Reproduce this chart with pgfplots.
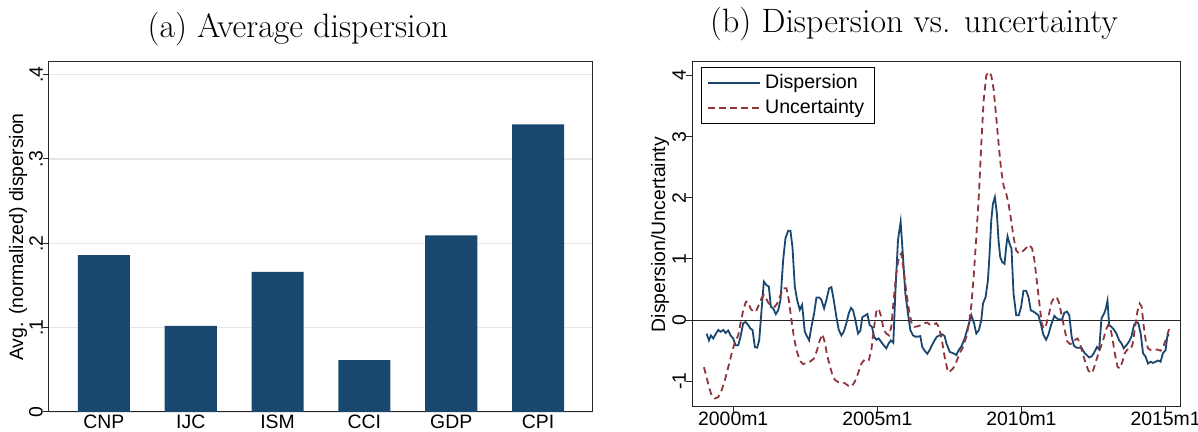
\documentclass[border=0pt]{standalone}
\usepackage{fontspec}
\usepackage{pgfplots}
\usepackage{pgfplotstable}
\pgfplotsset{compat=1.18}
\newfontfamily\arial{Liberation Sans}
\definecolor{stnavy}{HTML}{1A476F}
\definecolor{stmaroon}{HTML}{90353B}
\definecolor{stgrid}{HTML}{E6E6E6}

% Average normalized dispersion by survey
\pgfplotstableread{
x  v     name
1  0.186 CNP
2  0.102 IJC
3  0.166 ISM
4  0.0615 CCI
5  0.2095 GDP
6  0.341 CPI
}\avgdisp

% Dispersion (monthly, decimal years)
\pgfplotstableread{
t v
1999.076 -0.22
1999.157 -0.33
1999.226 -0.25
1999.307 -0.30
1999.388 -0.23
1999.480 -0.16
1999.561 -0.19
1999.654 -0.16
1999.734 -0.21
1999.827 -0.17
1999.908 -0.25
2000.000 -0.30
2000.081 -0.41
2000.173 -0.41
2000.254 -0.27
2000.346 -0.05
2000.427 -0.03
2000.520 -0.08
2000.600 -0.14
2000.670 -0.16
2000.751 -0.44
2000.831 -0.45
2000.901 -0.33
2000.982 0.16
2001.062 0.63
2001.155 0.57
2001.236 0.55
2001.305 0.22
2001.386 0.19
2001.478 0.10
2001.559 0.16
2001.640 0.33
2001.732 0.98
2001.813 1.34
2001.905 1.46
2001.986 1.46
2002.055 1.20
2002.136 0.55
2002.217 0.33
2002.309 0.17
2002.390 0.25
2002.483 -0.19
2002.564 -0.27
2002.633 -0.33
2002.714 -0.11
2002.806 0.11
2002.887 0.37
2002.979 0.37
2003.060 0.33
2003.152 0.19
2003.233 0.33
2003.326 0.52
2003.406 0.54
2003.487 0.33
2003.580 0.05
2003.661 -0.16
2003.753 -0.25
2003.834 -0.19
2003.926 -0.05
2004.007 0.11
2004.088 0.20
2004.157 0.16
2004.238 0.00
2004.330 -0.22
2004.411 -0.17
2004.480 0.05
2004.561 0.07
2004.654 0.10
2004.734 -0.08
2004.815 -0.11
2004.885 -0.27
2004.965 -0.32
2005.046 -0.30
2005.139 -0.36
2005.219 -0.41
2005.312 -0.46
2005.393 -0.38
2005.473 -0.33
2005.554 -0.37
2005.624 0.44
2005.716 1.31
2005.808 1.61
2005.889 1.04
2005.970 0.44
2006.062 0.11
2006.143 -0.16
2006.236 -0.25
2006.316 -0.27
2006.409 -0.27
2006.490 -0.26
2006.559 -0.44
2006.640 -0.50
2006.732 -0.55
2006.813 -0.49
2006.894 -0.41
2006.986 -0.33
2007.067 -0.27
2007.159 -0.25
2007.240 -0.23
2007.333 -0.26
2007.396 -0.38
2007.512 -0.52
2007.627 -0.54
2007.742 -0.57
2007.823 -0.49
2007.915 -0.43
2008.030 -0.30
2008.145 -0.11
2008.260 0.08
2008.353 -0.05
2008.433 -0.22
2008.525 -0.16
2008.606 0.00
2008.664 0.27
2008.756 0.38
2008.836 0.65
2008.894 1.09
2008.952 1.63
2009.009 1.90
2009.078 2.01
2009.147 1.74
2009.205 1.30
2009.263 1.03
2009.332 0.95
2009.412 0.92
2009.470 1.20
2009.516 1.37
2009.585 1.25
2009.654 1.17
2009.724 0.44
2009.816 0.08
2009.908 0.08
2009.988 0.22
2010.069 0.48
2010.161 0.48
2010.242 0.38
2010.323 0.16
2010.415 0.14
2010.507 0.11
2010.588 0.08
2010.680 -0.08
2010.760 -0.24
2010.853 -0.32
2010.933 -0.24
2011.025 -0.08
2011.141 0.07
2011.221 0.03
2011.313 0.01
2011.406 0.01
2011.486 0.12
2011.578 0.14
2011.659 0.08
2011.740 -0.27
2011.820 -0.42
2011.912 -0.45
2012.005 -0.45
2012.097 -0.46
2012.177 -0.53
2012.258 -0.57
2012.350 -0.61
2012.442 -0.59
2012.523 -0.53
2012.615 -0.44
2012.696 -0.48
2012.776 0.03
2012.869 0.11
2012.926 0.19
2012.984 0.32
2013.041 -0.08
2013.122 -0.11
2013.214 -0.16
2013.295 -0.22
2013.387 -0.33
2013.468 -0.38
2013.548 -0.46
2013.641 -0.41
2013.733 -0.35
2013.813 -0.27
2013.906 -0.08
2013.986 -0.03
2014.055 -0.05
2014.136 -0.22
2014.217 -0.54
2014.309 -0.60
2014.389 -0.71
2014.482 -0.68
2014.562 -0.70
2014.654 -0.68
2014.735 -0.66
2014.827 -0.68
2014.908 -0.54
2015.000 -0.49
2015.058 -0.27
2015.115 -0.23
}\dispersion

% Uncertainty (monthly, decimal years)
\pgfplotstableread{
t v
1998.984 -0.77
1999.076 -0.93
1999.157 -1.09
1999.249 -1.23
1999.365 -1.28
1999.480 -1.26
1999.596 -1.15
1999.711 -0.98
1999.827 -0.77
1999.942 -0.55
2000.058 -0.36
2000.173 -0.25
2000.254 -0.05
2000.346 0.16
2000.439 0.30
2000.520 0.30
2000.600 0.19
2000.693 0.14
2000.785 0.14
2000.889 0.25
2000.982 0.36
2001.062 0.41
2001.155 0.34
2001.236 0.27
2001.328 0.25
2001.443 0.22
2001.524 0.27
2001.617 0.38
2001.732 0.52
2001.848 0.52
2001.928 0.33
2002.021 0.00
2002.102 -0.27
2002.194 -0.49
2002.309 -0.66
2002.425 -0.72
2002.540 -0.70
2002.656 -0.68
2002.794 -0.63
2002.910 -0.49
2003.002 -0.33
2003.095 -0.23
2003.176 -0.36
2003.256 -0.57
2003.349 -0.74
2003.441 -0.90
2003.533 -0.98
2003.637 -1.01
2003.753 -1.01
2003.868 -1.03
2003.984 -1.07
2004.099 -1.09
2004.215 -1.01
2004.330 -0.87
2004.446 -0.71
2004.527 -0.66
2004.619 -0.68
2004.700 -0.66
2004.792 -0.49
2004.873 -0.16
2004.965 0.14
2005.046 0.19
2005.139 0.05
2005.219 -0.16
2005.312 -0.22
2005.404 -0.25
2005.485 -0.11
2005.566 0.33
2005.658 0.77
2005.751 1.04
2005.831 1.09
2005.912 0.82
2006.005 0.46
2006.097 0.16
2006.201 -0.08
2006.293 -0.11
2006.409 -0.10
2006.524 -0.08
2006.640 -0.05
2006.732 -0.04
2006.836 -0.08
2006.928 -0.08
2007.044 -0.05
2007.136 -0.11
2007.240 -0.33
2007.333 -0.60
2007.448 -0.85
2007.512 -0.84
2007.627 -0.79
2007.742 -0.68
2007.857 -0.54
2007.972 -0.44
2008.088 -0.27
2008.180 -0.05
2008.260 0.24
2008.341 0.71
2008.433 1.36
2008.525 2.07
2008.606 2.88
2008.687 3.59
2008.779 4.00
2008.871 4.06
2008.952 4.00
2009.032 3.78
2009.124 3.32
2009.217 2.83
2009.297 2.45
2009.378 2.20
2009.470 2.07
2009.551 1.90
2009.643 1.63
2009.724 1.36
2009.816 1.14
2009.908 1.09
2010.000 1.11
2010.104 1.15
2010.196 1.20
2010.276 1.23
2010.369 1.17
2010.449 0.98
2010.530 0.65
2010.622 0.27
2010.703 -0.05
2010.772 -0.14
2010.853 -0.08
2010.945 0.08
2011.048 0.30
2011.141 0.37
2011.221 0.38
2011.313 0.27
2011.406 0.05
2011.498 -0.16
2011.590 -0.35
2011.682 -0.39
2011.774 -0.38
2011.866 -0.32
2011.947 -0.30
2012.028 -0.38
2012.120 -0.54
2012.212 -0.68
2012.316 -0.82
2012.408 -0.87
2012.488 -0.82
2012.581 -0.68
2012.673 -0.54
2012.753 -0.44
2012.834 -0.33
2012.926 -0.16
2013.007 -0.08
2013.076 -0.11
2013.157 -0.30
2013.237 -0.54
2013.330 -0.76
2013.410 -0.79
2013.502 -0.68
2013.583 -0.54
2013.675 -0.48
2013.756 -0.49
2013.848 -0.41
2013.929 -0.16
2014.021 0.14
2014.101 0.27
2014.171 0.22
2014.228 -0.05
2014.309 -0.33
2014.389 -0.46
2014.482 -0.49
2014.597 -0.49
2014.712 -0.48
2014.827 -0.50
2014.919 -0.44
2015.000 -0.33
2015.092 -0.19
2015.150 -0.10
}\uncertainty

\pgfplotsset{
  panel/.style={
    scale only axis,
    axis line style={black!85, line width=0.5pt},
    tick style={black!85, line width=0.5pt},
    tick align=outside,
    tick pos=left,
    major tick length=3pt,
    tick label style={font=\arial\fontsize{9.7}{11}\selectfont},
    label style={font=\arial\fontsize{9.7}{11}\selectfont},
    title style={font=\fontsize{16.9}{20}\selectfont, anchor=center, yshift=10.5pt},
    yticklabel style={rotate=90, anchor=south},
    yticklabel shift=-3.5pt,
    ylabel style={anchor=center},
  }
}

\begin{document}
\begin{tikzpicture}
\path[use as bounding box] (0pt,0pt) rectangle (599pt,216pt);

% (a) bar chart
\begin{axis}[panel,
  at={(24.5pt,10pt)}, anchor=south west,
  width=272pt, height=175pt,
  xmin=0.368, xmax=6.632, ymin=0, ymax=0.415,
  xtick={1,2,3,4,5,6},
  xticklabels={CNP,IJC,ISM,CCI,GDP,CPI},
  xtick style={draw=none},
  xticklabel shift=-5pt,
  ytick={0,0.1,0.2,0.3,0.4},
  yticklabels={0,.1,.2,.3,.4},
  ymajorgrids,
  major grid style={stgrid, line width=0.8pt},
  ylabel={Avg. (normalized) dispersion},
  ylabel style={at={(axis description cs:-0.057,0.5)}},
  title={(a) Average dispersion},
  title style={at={(axis description cs:0.4577,1)}},
]
\addplot[ybar, bar width=0.6, fill=stnavy, draw=none] table[x=x, y=v] {\avgdisp};
\end{axis}

% (b) time series
\begin{axis}[panel,
  at={(346pt,12.5pt)}, anchor=south west,
  width=244pt, height=172.5pt,
  xmin=1998.57, xmax=2015.5, ymin=-1.42, ymax=4.22,
  xtick={2000,2005,2010,2015},
  xticklabels={2000m1,2005m1,2010m1,2015m1},
  xticklabel shift=-4pt,
  ytick={-1,0,1,2,3,4},
  yticklabels={-1,0,1,2,3,4},
  extra y ticks={0},
  extra y tick labels={},
  extra y tick style={grid=major, major grid style={black!85, line width=0.5pt}, major tick length=0pt},
  ylabel={Dispersion/Uncertainty},
  ylabel style={at={(axis description cs:-0.0656,0.5)}},
  title={(b) Dispersion vs. uncertainty},
  title style={at={(axis description cs:0.455,1.0145)}},
  legend style={at={(0.018,0.986)}, anchor=north west, draw=black, line width=0.5pt,
    font=\arial\fontsize{9.8}{11}\selectfont, inner xsep=3pt, inner ysep=1.5pt,
    row sep=0pt, cells={anchor=west}},
  legend image code/.code={\draw[#1] (0pt,0pt) -- (26pt,0pt);},
]
\addplot[stnavy, line width=0.9pt] table[x=t, y=v] {\dispersion};
\addlegendentry{Dispersion}
\addplot[stmaroon, line width=0.9pt, dash pattern=on 3.3pt off 2.2pt] table[x=t, y=v] {\uncertainty};
\addlegendentry{Uncertainty}
\end{axis}
\end{tikzpicture}
\end{document}
